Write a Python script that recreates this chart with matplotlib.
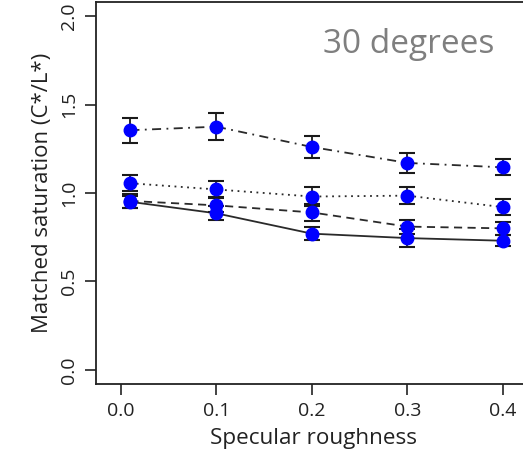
import matplotlib as mpl
mpl.use('Agg')
import matplotlib.pyplot as plt

# specular roughness levels
x = [0.01, 0.1, 0.2, 0.3, 0.4]

# matched saturation per condition
solid_y = [0.95, 0.885, 0.77, 0.745, 0.73]
solid_err = [0.035, 0.04, 0.035, 0.05, 0.03]
dashed_y = [0.955, 0.93, 0.89, 0.81, 0.80]
dashed_err = [0.04, 0.04, 0.05, 0.04, 0.035]
dotted_y = [1.055, 1.02, 0.98, 0.985, 0.92]
dotted_err = [0.045, 0.045, 0.055, 0.05, 0.045]
dashdot_y = [1.355, 1.375, 1.26, 1.17, 1.145]
dashdot_err = [0.07, 0.075, 0.06, 0.055, 0.045]

xticks = [0.0, 0.1, 0.2, 0.3, 0.4]
yticks = [0.0, 0.5, 1.0, 1.5, 2.0]

plt.rcParams['font.family'] = ['Open Sans', 'DejaVu Sans']

fig = plt.figure(figsize=(5.23, 4.76), dpi=100)
ax = fig.add_axes([0.1836, 0.1933, 0.833, 0.8025])

series = [
    (solid_y, solid_err, '-'),
    (dashed_y, dashed_err, (0, (4.5, 3))),
    (dotted_y, dotted_err, (0, (1, 2.5))),
    (dashdot_y, dashdot_err, (0, (5, 3, 1, 3))),
]
for ys, es, ls in series:
    ax.plot(x, ys, color='#2a2a2a', linestyle=ls, linewidth=1.3, zorder=2)
    ax.errorbar(x, ys, yerr=es, fmt='none', ecolor='#1a1a1a',
                elinewidth=1.3, capsize=6, capthick=1.5, zorder=3)
    ax.plot(x, ys, 'o', color='#0000ff', markersize=9, zorder=4)

ax.set_xlim(-0.026, 0.43)
ax.set_ylim(-0.08, 2.08)
ax.set_xticks(xticks)
ax.set_xticklabels(['%.1f' % v for v in xticks])
ax.set_yticks(yticks)
ax.set_yticklabels(['%.1f' % v for v in yticks], rotation=90, va='center')

for s in ax.spines.values():
    s.set_linewidth(1.3)
    s.set_color('#222222')
ax.tick_params(direction='out', length=8, width=1.2, labelsize=14,
               colors='#222222', pad=5)

ax.set_xlabel('Specular roughness', fontsize=16.2, color='#222222', labelpad=6)
ax.set_ylabel('Matched saturation (C*/L*)', fontsize=16, color='#222222',
              labelpad=5)

ax.text(0.2115, 1.84, '30 degrees', fontsize=24, color='#7f7f7f',
        ha='left', va='center')

fig.savefig('out.png', dpi=100)
